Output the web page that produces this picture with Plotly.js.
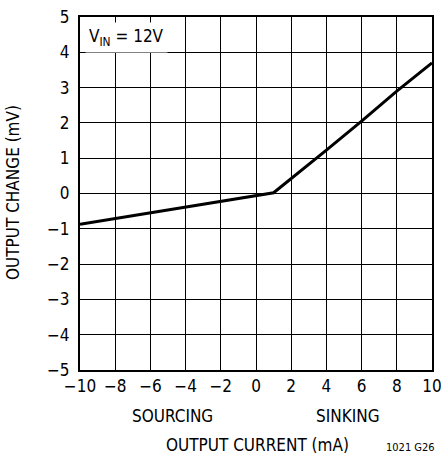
<!DOCTYPE html>
<html>
<head>
<meta charset="utf-8">
<script src="https://cdn.plot.ly/plotly-3.0.1.min.js"></script>
<style>
html,body{margin:0;padding:0;background:#fff;}
#chart{width:441px;height:455px;}
</style>
</head>
<body>
<div id="chart"></div>
<script>
// Data
const currentMA = [-10, 1, 4, 6, 8, 10];
const outputChangeMV = [-0.87, 0.02, 1.23, 2.05, 2.9, 3.7];
const xTickVals = [-10, -8, -6, -4, -2, 0, 2, 4, 6, 8, 10];
const xTickText = ["\u221210", "\u22128", "\u22126", "\u22124", "\u22122", "0", "2", "4", "6", "8", "10"];
const yTickVals = [-5, -4, -3, -2, -1, 0, 1, 2, 3, 4, 5];
const yTickText = ["\u22125", "\u22124", "\u22123", "\u22122", "\u22121", "0", "1", "2", "3", "4", "5"];

const FONT = "'Liberation Sans Narrow', 'DejaVu Sans Condensed', 'Arial Narrow', sans-serif";

const trace = {
  x: currentMA,
  y: outputChangeMV,
  type: 'scatter',
  mode: 'lines',
  line: {color: '#000', width: 3},
  hoverinfo: 'none'
};

const layout = {
  width: 441,
  height: 455,
  margin: {l: 80, r: 9, t: 17, b: 85},
  paper_bgcolor: '#fff',
  plot_bgcolor: '#fff',
  showlegend: false,
  font: {family: FONT, size: 17, color: '#000'},
  xaxis: {
    range: [-10, 10],
    tickvals: xTickVals,
    ticktext: xTickText,
    showgrid: true, gridcolor: '#000', gridwidth: 1,
    zeroline: false,
    showline: true, mirror: true, linecolor: '#000', linewidth: 2,
    ticks: '', fixedrange: true,
    ticklabeloverflow: 'allow',
    tickfont: {family: FONT, size: 17, color: '#000'}
  },
  yaxis: {
    range: [-5, 5],
    tickvals: yTickVals,
    ticktext: yTickText,
    showgrid: true, gridcolor: '#000', gridwidth: 1,
    zeroline: false,
    showline: true, mirror: true, linecolor: '#000', linewidth: 2,
    ticks: '', fixedrange: true,
    ticklabelstandoff: 5,
    ticklabeloverflow: 'allow',
    tickfont: {family: FONT, size: 17, color: '#000'}
  },
  annotations: [
    {text: 'V<sub>IN</sub> = 12V', xref: 'paper', yref: 'paper', x: 0.015, y: 0.985,
     xanchor: 'left', yanchor: 'top', showarrow: false, bgcolor: '#fff', borderpad: 3,
     font: {family: FONT, size: 17, color: '#000'}},
    {text: 'SOURCING', xref: 'paper', yref: 'paper', x: (172-80)/352, y: -(416-370)/353,
     xanchor: 'center', yanchor: 'middle', showarrow: false,
     font: {family: FONT, size: 17, color: '#000'}},
    {text: 'SINKING', xref: 'paper', yref: 'paper', x: (347-80)/352, y: -(416-370)/353,
     xanchor: 'center', yanchor: 'middle', showarrow: false,
     font: {family: FONT, size: 17, color: '#000'}},
    {text: 'OUTPUT CURRENT (mA)', xref: 'paper', yref: 'paper', x: (257-80)/352, y: -(445-370)/353,
     xanchor: 'center', yanchor: 'middle', showarrow: false,
     font: {family: FONT, size: 17, color: '#000'}},
    {text: '1021 G26', xref: 'paper', yref: 'paper', x: (410-80)/352, y: -(448-370)/353,
     xanchor: 'center', yanchor: 'middle', showarrow: false,
     font: {family: FONT, size: 11, color: '#000'}},
    {text: 'OUTPUT CHANGE (mV)', xref: 'paper', yref: 'paper', x: -(80-13)/352, y: (370-193)/353,
     xanchor: 'center', yanchor: 'middle', showarrow: false, textangle: -90,
     font: {family: FONT, size: 17, color: '#000'}}
  ]
};

Plotly.newPlot('chart', [trace], layout, {displayModeBar: false, staticPlot: true});
</script>
</body>
</html>
